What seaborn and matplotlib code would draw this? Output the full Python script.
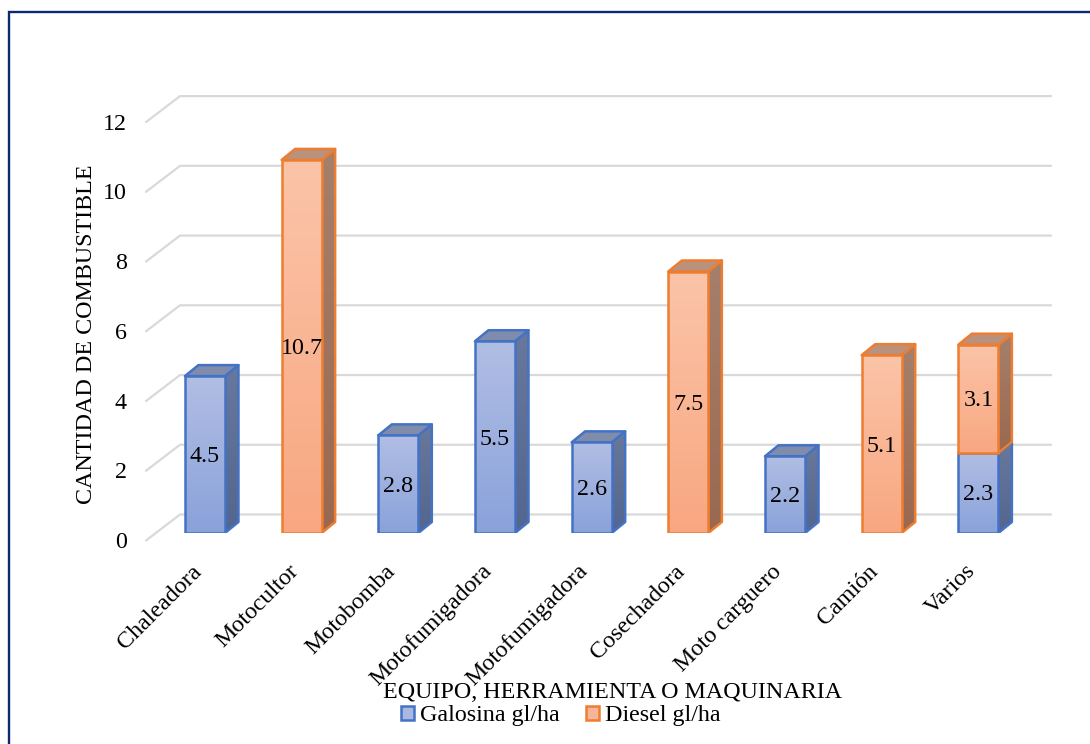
import numpy as np
import matplotlib
matplotlib.use("Agg")
import matplotlib.pyplot as plt
from matplotlib.colors import LinearSegmentedColormap
from matplotlib.lines import Line2D
from matplotlib.patches import Patch, Polygon, Rectangle
from matplotlib.transforms import ScaledTranslation
import seaborn as sns

categories = ["Chaleadora", "Motocultor", "Motobomba", "Motofumigadora", "Motofumigadora",
              "Cosechadora", "Moto carguero", "Camión", "Varios"]
gasolina = [4.5, 0, 2.8, 5.5, 2.6, 0, 2.2, 0, 2.3]
diesel = [0, 10.7, 0, 0, 0, 7.5, 0, 5.1, 3.1]
y_ticks = [0, 2, 4, 6, 8, 10, 12]
series_names = ["Galosina gl/ha", "Diesel gl/ha"]

W, H = 1090, 744
FS = 17.3
sns.set_theme(style="white")
plt.rcParams["font.family"] = ["Liberation Serif", "DejaVu Serif"]
plt.rcParams["text.color"] = "black"
plt.rcParams["axes.labelcolor"] = "black"
plt.rcParams["xtick.color"] = "black"
plt.rcParams["ytick.color"] = "black"

fig = plt.figure(figsize=(W / 100, H / 100), dpi=100, facecolor="white")
LEFT, RIGHT, BASE, TOP = 156.6, 1026.7, 533.0, 114.6
ax = fig.add_axes([LEFT / W, 1 - BASE / H, (RIGHT - LEFT) / W, (BASE - TOP) / H])
ax.set_facecolor("none")
unit_x = (RIGHT - LEFT) / 9
unit_y = (BASE - TOP) / 12
px = lambda p: -0.5 + (p - LEFT) / unit_x
DX, DY = 13.5 / unit_x, 11 / unit_y

STYLE = {
    "g": dict(edge="#4472c4", front=("#b1bee4", "#8aa2da"), side=("#69789c", "#53668f"), top="#7f8cab"),
    "d": dict(edge="#ed7d31", front=("#fbc4a8", "#f8a781"), side=("#a5806c", "#9a6850"), top="#b9917c"),
}
LW = 1.8

idx = list(range(len(categories)))
sns.barplot(x=idx, y=gasolina, ax=ax, width=0.414, color="#9db0df", errorbar=None, saturation=1, zorder=5)
n_first = len(ax.patches)
sns.barplot(x=idx, y=diesel, bottom=gasolina, ax=ax, width=0.414, color="#f9b595", errorbar=None, saturation=1, zorder=5)
patches = list(ax.patches)
g_bars, d_bars = patches[:n_first], patches[n_first:]

ax.set_xlim(-0.5, 8.5)
ax.set_ylim(0, 12)
ax.autoscale(False)


def gradient(poly, top, bottom, z):
    xy = poly.get_xy()
    cmap = LinearSegmentedColormap.from_list("g", [top, bottom])
    im = ax.imshow(np.linspace(0, 1, 128)[:, None], cmap=cmap, aspect="auto", origin="upper",
                   extent=(xy[:, 0].min(), xy[:, 0].max(), xy[:, 1].min(), xy[:, 1].max()), zorder=z)
    im.set_clip_path(poly)
    im.set_clip_on(True)


def box(bar, st, z, cap):
    x0, y0 = bar.get_x(), bar.get_y()
    w, h = bar.get_width(), bar.get_height()
    x1, y1 = x0 + w, y0 + h
    bar.set_visible(False)
    side = Polygon([(x1, y1), (x1 + DX, y1 + DY), (x1 + DX, y0 + DY), (x1, y0)], closed=True,
                   facecolor="none", edgecolor="none", zorder=z)
    ax.add_patch(side)
    gradient(side, *st["side"], z + 0.1)
    ax.add_patch(Polygon(side.get_xy(), closed=True, fill=False, edgecolor=st["edge"], lw=LW,
                         joinstyle="round", zorder=z + 0.2))
    if cap:
        ax.add_patch(Polygon([(x0, y1), (x0 + DX, y1 + DY), (x1 + DX, y1 + DY), (x1, y1)], closed=True,
                             facecolor=st["top"], edgecolor=st["edge"], lw=LW, joinstyle="round", zorder=z + 0.2))
    front = Polygon([(x0, y0), (x1, y0), (x1, y1), (x0, y1)], closed=True,
                    facecolor="none", edgecolor="none", zorder=z + 0.3)
    ax.add_patch(front)
    gradient(front, *st["front"], z + 0.4)
    ax.add_patch(Rectangle((x0, y0), w, h, fill=False, edgecolor=st["edge"], lw=LW, zorder=z + 0.5))


label_shift = ax.transData + ScaledTranslation(0, -2 / 100, fig.dpi_scale_trans)
for i in idx:
    z = 5 + i
    if gasolina[i] > 0:
        box(g_bars[i], STYLE["g"], z, diesel[i] == 0)
    else:
        g_bars[i].set_visible(False)
    if diesel[i] > 0:
        box(d_bars[i], STYLE["d"], z + 1 if gasolina[i] > 0 else z, True)
    else:
        d_bars[i].set_visible(False)
    if gasolina[i] > 0:
        ax.text(i, gasolina[i] / 2, f"{gasolina[i]:.1f}", ha="center", va="center", fontsize=FS, zorder=40,
                transform=label_shift)
    if diesel[i] > 0:
        ax.text(i, gasolina[i] + diesel[i] / 2, f"{diesel[i]:.1f}", ha="center", va="center", fontsize=FS, zorder=40,
                transform=label_shift)

# back wall gridlines in perspective
wall_drop = (BASE - 514.5) / unit_y
wall_front = (540.5 - 514.5) / unit_y
for v in y_ticks:
    back = v + wall_drop
    ax.plot([px(146), px(180), px(1051)], [back - wall_front, back, back], color="#d9d9d9", lw=1.6,
            clip_on=False, zorder=1, solid_joinstyle="round")

sns.despine(ax=ax, left=True, bottom=True)
ax.grid(False)
ax.set_yticks(y_ticks)
ax.set_yticklabels([str(v) for v in y_ticks], fontsize=FS)
ax.tick_params(axis="y", length=0, pad=21.5)
ax.set_xticks(idx)
ax.set_xticklabels(categories, fontsize=FS, rotation=45, ha="right", rotation_mode="anchor")
ax.tick_params(axis="x", length=0, pad=20)
for lab in ax.get_yticklabels():
    lab.set_transform(lab.get_transform() + ScaledTranslation(0, -7 / 100, fig.dpi_scale_trans))
for lab in ax.get_xticklabels():
    lab.set_transform(lab.get_transform() + ScaledTranslation(-14 / 100, 0, fig.dpi_scale_trans))

ax.set_xlabel("EQUIPO, HERRAMIENTA O MAQUINARIA", fontsize=FS)
ax.xaxis.set_label_coords(613 / W, 1 - 692 / H, transform=fig.transFigure)
ax.xaxis.label.set_va("center")
ax.set_ylabel("CANTIDAD DE COMBUSTIBLE", fontsize=FS)
ax.yaxis.set_label_coords(87 / W, 1 - 334 / H, transform=fig.transFigure)
ax.yaxis.label.set_va("center")

handles = [Patch(facecolor="#a9b8e2", edgecolor=STYLE["g"]["edge"], lw=LW, label=series_names[0]),
           Patch(facecolor="#f6b598", edgecolor=STYLE["d"]["edge"], lw=LW, label=series_names[1])]
fig.legend(handles=handles, loc="center", bbox_to_anchor=(561 / W, 1 - 716 / H), ncol=2, frameon=False,
           fontsize=FS, handlelength=0.55, handleheight=0.55, handletextpad=0.25, columnspacing=1.08,
           borderpad=0, borderaxespad=0)

# frame of the figure: left and top edges only
frame = "#0b2a70"
fig.add_artist(Line2D([9 / W, 9 / W, 1], [0, 1 - 12 / H, 1 - 12 / H], color=frame, lw=1.7, solid_joinstyle="miter"))

fig.savefig("out.png", dpi=100, facecolor="white")
